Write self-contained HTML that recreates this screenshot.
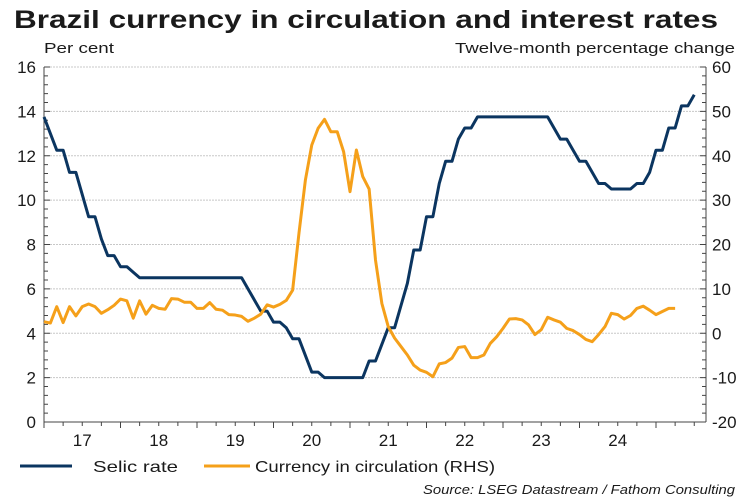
<!DOCTYPE html>
<html><head><meta charset="utf-8"><style>
body{margin:0;background:#fff;}
svg{display:block;font-family:"Liberation Sans",Arial,sans-serif;}
</style></head><body>
<svg id="c" width="750" height="500">
<text x="14" y="28" font-size="25" font-weight="bold" fill="#1a1a1a" textLength="704" lengthAdjust="spacingAndGlyphs">Brazil currency in circulation and interest rates</text>
<text x="44" y="53" font-size="15" fill="#1a1a1a" textLength="70" lengthAdjust="spacingAndGlyphs">Per cent</text>
<text x="455" y="53" font-size="15" fill="#1a1a1a" textLength="280" lengthAdjust="spacingAndGlyphs">Twelve-month percentage change</text>
<g id="grid"></g><g id="axes"></g><g id="series"></g>
<line x1="20" y1="466" x2="72" y2="466" stroke="#0b3560" stroke-width="3"/>
<text x="93" y="472" font-size="16" fill="#1a1a1a" textLength="85" lengthAdjust="spacingAndGlyphs">Selic rate</text>
<line x1="204" y1="466" x2="250" y2="466" stroke="#f5a01a" stroke-width="3"/>
<text x="255" y="472" font-size="16" fill="#1a1a1a" textLength="240" lengthAdjust="spacingAndGlyphs">Currency in circulation (RHS)</text>
<text x="423" y="494" font-size="13" font-style="italic" fill="#1a1a1a" textLength="312" lengthAdjust="spacingAndGlyphs">Source: LSEG Datastream / Fathom Consulting</text>
</svg>
<script>
const years=['17','18','19','20','21','22','23','24'];
const leftTicks=[0,2,4,6,8,10,12,14,16];
const rightTicks=[-20,-10,0,10,20,30,40,50,60];
const selic=[13.75,13.0,12.25,12.25,11.25,11.25,10.25,9.25,9.25,8.25,7.5,7.5,7.0,
7.0,6.75,6.5,6.5,6.5,6.5,6.5,6.5,6.5,6.5,6.5,6.5,
6.5,6.5,6.5,6.5,6.5,6.5,6.5,6.0,5.5,5.0,5.0,4.5,
4.5,4.25,3.75,3.75,3.0,2.25,2.25,2.0,2.0,2.0,2.0,2.0,
2.0,2.0,2.75,2.75,3.5,4.25,4.25,5.25,6.25,7.75,7.75,9.25,
9.25,10.75,11.75,11.75,12.75,13.25,13.25,13.75,13.75,13.75,13.75,13.75,
13.75,13.75,13.75,13.75,13.75,13.75,13.75,13.25,12.75,12.75,12.25,11.75,
11.75,11.25,10.75,10.75,10.5,10.5,10.5,10.5,10.75,10.75,11.25,12.25,
12.25,13.25,13.25,14.25,14.25,14.75];
const currency=[2.6,2.3,6.0,2.4,6.0,3.9,6.0,6.6,6.0,4.5,5.3,6.3,
7.7,7.3,3.4,7.3,4.3,6.3,5.6,5.4,7.8,7.7,7.0,7.0,
5.6,5.6,6.9,5.4,5.2,4.2,4.1,3.8,2.7,3.4,4.3,6.4,
5.9,6.5,7.4,9.7,22.6,34.5,42.4,46.2,48.2,45.4,45.4,40.9,
31.9,41.3,35.3,32.5,16.5,6.7,1.5,-1.1,-3.0,-4.9,-7.2,-8.3,
-8.8,-9.8,-6.9,-6.6,-5.6,-3.2,-3.0,-5.5,-5.5,-4.9,-2.3,-0.8,
1.1,3.2,3.3,3.0,1.9,-0.3,0.8,3.6,3.0,2.5,1.1,0.6,
-0.3,-1.4,-1.9,-0.3,1.5,4.5,4.2,3.2,4.0,5.6,6.1,5.2,
4.2,4.9,5.6,5.6];
const NS='http://www.w3.org/2000/svg';
const X0=44,X1=706,Y0=422,Y1=67,MPX=6.375;
const xm=i=>X0+i*MPX;
const yl=v=>Y0-(v-0)/16*(Y0-Y1);
const yr=v=>Y0-(v+20)/80*(Y0-Y1);
function mk(t,a,p){const e=document.createElementNS(NS,t);for(const k in a)e.setAttribute(k,a[k]);p.appendChild(e);return e;}
const grid=document.getElementById('grid'),axes=document.getElementById('axes'),ser=document.getElementById('series');
leftTicks.forEach((v,i)=>{
  if(v>0){const g=mk('line',{x1:X0,x2:X1,y1:yl(v),y2:yl(v),stroke:'#c8c8c8','stroke-width':1,'stroke-dasharray':'2,1'},grid);
  
  }
  const t=mk('text',{x:36,y:yl(v)+6,'font-size':17,'text-anchor':'end',fill:'#1a1a1a'},axes);t.textContent=v;
  
  
});
rightTicks.forEach(v=>{
  const t=mk('text',{x:712,y:yr(v)+6,'font-size':17,fill:'#1a1a1a'},axes);t.textContent=v;
  
  
});
for(let k=0;k<=40;k++){const y=Y0-k*(Y0-Y1)/40,len=k%5==0?6:4;
  mk('line',{x1:X0,x2:X0+len,y1:y,y2:y,stroke:'#444'},axes);
  mk('line',{x1:X1-len,x2:X1,y1:y,y2:y,stroke:'#444'},axes);}
mk('line',{x1:X0,x2:X0,y1:Y1,y2:Y0,stroke:'#444'},axes);
mk('line',{x1:X1,x2:X1,y1:Y1,y2:Y0,stroke:'#444'},axes);
mk('line',{x1:X0,x2:X1,y1:Y0,y2:Y0,stroke:'#444'},axes);
for(let q=0;q*3*MPX<=X1-X0;q++){const x=X0+q*3*MPX;mk('line',{x1:x,x2:x,y1:Y0,y2:Y0+(q%4==0?6:4),stroke:'#444'},axes);}
years.forEach((y,i)=>{const t=mk('text',{x:xm(i*12+6),y:446,'font-size':17,'text-anchor':'middle',fill:'#1a1a1a'},axes);t.textContent=y;
  
  });
const p1=mk('polyline',{points:selic.map((v,i)=>xm(i)+','+yl(v)).join(' '),fill:'none',stroke:'#0b3560','stroke-width':3,'stroke-linejoin':'round'},ser);


const p2=mk('polyline',{points:currency.map((v,i)=>xm(i)+','+yr(v)).join(' '),fill:'none',stroke:'#f5a01a','stroke-width':3,'stroke-linejoin':'round'},ser);


</script>
</body></html>
